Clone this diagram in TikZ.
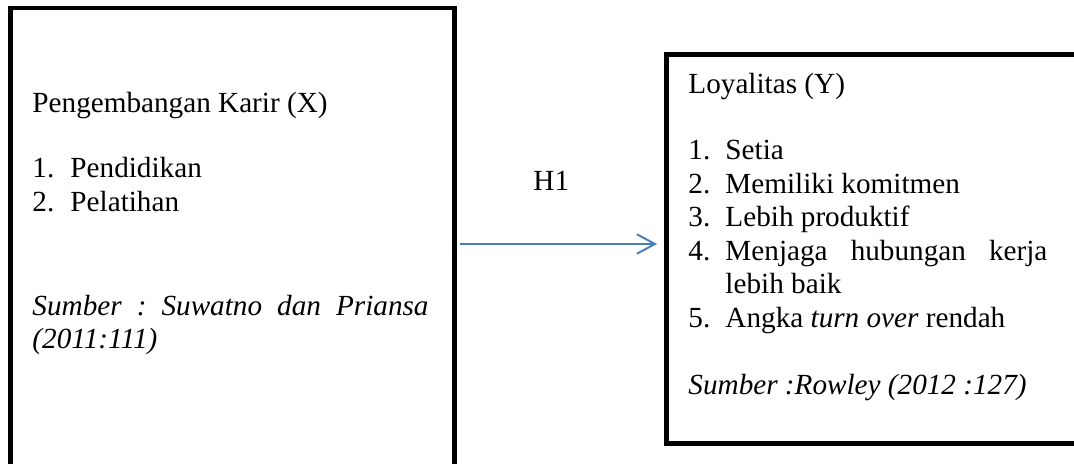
\documentclass[tikz,border=0pt]{standalone}
\usepackage{fontspec}
\setmainfont{Liberation Serif}
\usetikzlibrary{arrows.meta}
\definecolor{arrowblue}{HTML}{4A7EBB}
\frenchspacing
\begin{document}
\begin{tikzpicture}[x=0.411pt,y=-0.411pt,
  box/.style={draw=black, line width=2.05pt, inner sep=0pt, outer sep=0pt, anchor=north west},
  txt/.style={anchor=base west, inner sep=0pt, font=\fontsize{12}{14}\selectfont},
  conn/.style={draw=arrowblue, line width=0.8pt, -{Straight Barb[length=7.4pt,width=8pt,line width=0.8pt]}}]
\useasboundingbox (0,0) rectangle (1074,463);
\clip (0,0) rectangle (1074,463);
% boxes
\node[box, minimum width=182.3pt, minimum height=194pt] (L) at (10.5,8) {};
\node[box, minimum width=172pt, minimum height=159.9pt] (R) at (666.5,54.5) {};
% left box text
\node[txt] (lt) at (32,112) {Pengembangan Karir (X)};
\node[txt] (l1n) at (32,177) {1.};
\node[txt] (l1) at (70,177) {Pendidikan};
\node[txt] (l2n) at (32,211) {2.};
\node[txt] (l2) at (70,211) {Pelatihan};
\node[txt] (ls1) at (32,315) {\itshape\makebox[162.8pt][s]{Sumber : Suwatno dan Priansa}};
\node[txt] (ls2) at (32,348) {\itshape (2011:111)};
% H1
\node[txt] (h) at (533,190) {H1};
% right box text
\node[txt] (rt) at (688,93) {Loyalitas (Y)};
\node[txt] (r1n) at (688,159) {1.};
\node[txt] (r1) at (725,159) {Setia};
\node[txt] (r2n) at (688,193) {2.};
\node[txt] (r2) at (725,193) {Memiliki komitmen};
\node[txt] (r3n) at (688,226.5) {3.};
\node[txt] (r3) at (725,226.5) {Lebih produktif};
\node[txt] (r4n) at (688,260) {4.};
\node[txt] (r4) at (725,260) {\makebox[132.3pt][s]{Menjaga hubungan kerja}};
\node[txt] (r4b) at (725,293.5) {lebih baik};
\node[txt] (r5n) at (688,327) {5.};
\node[txt] (r5) at (725,327) {Angka \textit{turn over} rendah};
\node[txt] (rs) at (688,394) {\itshape Sumber :Rowley (2012 :127)};
% arrow
\coordinate (a1) at (460,244);
\coordinate (a2) at (657,244);
\draw[conn] (a1) -- (a2);
\end{tikzpicture}
\end{document}
